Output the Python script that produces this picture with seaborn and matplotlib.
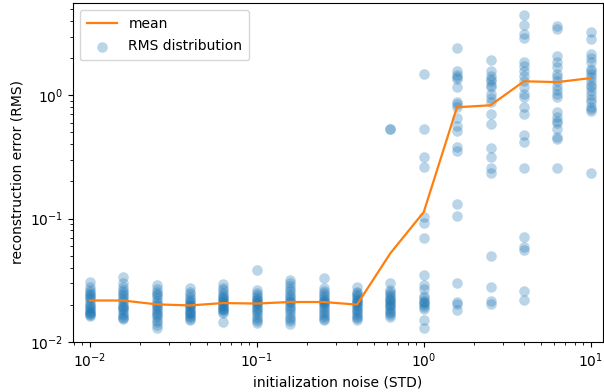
import numpy as np
import pandas as pd
import matplotlib
matplotlib.use('Agg')
import matplotlib.pyplot as plt
import seaborn as sns

# noise levels (x positions of the columns)
noise = [0.01, 0.0158, 0.0251, 0.0398, 0.0631, 0.1, 0.158, 0.251,
         0.398, 0.631, 1.0, 1.58, 2.51, 3.98, 6.31, 10.0]

# RMS values
rms_cols = [
    [0.0303, 0.0277, 0.0262, 0.0251, 0.0244, 0.0238, 0.0231, 0.0225, 0.0218, 0.0208,
     0.0200, 0.0195, 0.0189, 0.0184, 0.0179, 0.0174, 0.0169, 0.0166, 0.0163, 0.0170],
    [0.0333, 0.0300, 0.0280, 0.0265, 0.0255, 0.0245, 0.0235, 0.0226, 0.0218, 0.0210,
     0.0200, 0.0193, 0.0186, 0.0180, 0.0172, 0.0166, 0.0160, 0.0155, 0.0154, 0.0190],
    [0.0290, 0.0270, 0.0255, 0.0245, 0.0240, 0.0228, 0.0215, 0.0205, 0.0196, 0.0188,
     0.0180, 0.0174, 0.0168, 0.0165, 0.0158, 0.0150, 0.0145, 0.0137, 0.0129, 0.0200],
    [0.0271, 0.0255, 0.0243, 0.0232, 0.0222, 0.0212, 0.0203, 0.0195, 0.0190, 0.0184,
     0.0178, 0.0172, 0.0167, 0.0162, 0.0158, 0.0153, 0.0149, 0.0175, 0.0200, 0.0215],
    [0.0296, 0.0275, 0.0262, 0.0250, 0.0240, 0.0231, 0.0222, 0.0214, 0.0206, 0.0199,
     0.0192, 0.0186, 0.0180, 0.0175, 0.0170, 0.0144, 0.0210, 0.0225, 0.0195, 0.0185],
    [0.0385, 0.0262, 0.0250, 0.0240, 0.0232, 0.0224, 0.0216, 0.0208, 0.0200, 0.0193,
     0.0186, 0.0180, 0.0174, 0.0168, 0.0160, 0.0152, 0.0146, 0.0141, 0.0220, 0.0205],
    [0.0316, 0.0300, 0.0282, 0.0268, 0.0257, 0.0246, 0.0236, 0.0226, 0.0217, 0.0209,
     0.0200, 0.0192, 0.0184, 0.0176, 0.0168, 0.0160, 0.0152, 0.0146, 0.0140, 0.0210],
    [0.0326, 0.0271, 0.0258, 0.0248, 0.0240, 0.0232, 0.0224, 0.0216, 0.0208, 0.0200,
     0.0193, 0.0186, 0.0179, 0.0172, 0.0166, 0.0160, 0.0154, 0.0150, 0.0215, 0.0205],
    [0.0277, 0.0255, 0.0247, 0.0240, 0.0233, 0.0226, 0.0219, 0.0212, 0.0206, 0.0200,
     0.0194, 0.0188, 0.0182, 0.0176, 0.0170, 0.0165, 0.0160, 0.0155, 0.0150, 0.0215],
    [0.53, 0.53, 0.0300, 0.0262, 0.0251, 0.0242, 0.0234, 0.0226, 0.0218, 0.0210,
     0.0202, 0.0195, 0.0188, 0.0181, 0.0175, 0.0170, 0.0165, 0.0160, 0.0220, 0.0200],
    [1.50, 0.53, 0.318, 0.263, 0.103, 0.092, 0.069, 0.0345, 0.0286, 0.027,
     0.0235, 0.0225, 0.0215, 0.0205, 0.0198, 0.019, 0.0183, 0.0149, 0.0128, 0.0210],
    [2.42, 1.57, 1.45, 1.35, 1.16, 0.877, 0.80, 0.66, 0.56, 0.51,
     0.38, 0.35, 0.131, 0.105, 0.0297, 0.0212, 0.0204, 0.0182, 1.40, 0.85],
    [1.93, 1.57, 1.43, 1.30, 1.16, 1.02, 0.877, 0.70, 0.58, 0.376,
     0.318, 0.258, 0.235, 0.050, 0.0277, 0.0216, 0.0204, 1.22, 1.36, 0.95],
    [4.5, 3.72, 3.15, 2.92, 1.86, 1.72, 1.57, 1.43, 1.30, 1.16, 1.02,
     0.96, 0.80, 0.70, 0.48, 0.42, 0.258, 0.071, 0.0585, 0.056, 0.026, 0.022],
    [3.66, 3.46, 2.08, 1.86, 1.69, 1.48, 1.30, 1.18, 1.02, 0.96,
     0.73, 0.67, 0.60, 0.53, 0.46, 0.44, 0.258, 1.40, 1.10, 0.62],
    [3.27, 2.87, 2.16, 1.86, 1.57, 1.48, 1.30, 1.16, 1.08, 0.93,
     0.877, 0.81, 0.74, 0.235, 1.65, 1.22, 1.40, 1.00, 0.78, 2.0],
]

# mean line
mean_rms = [0.0216, 0.0216, 0.0201, 0.0197, 0.0206, 0.0204, 0.021, 0.021,
            0.020, 0.0523, 0.113, 0.80, 0.83, 1.30, 1.28, 1.38]

# long-form table for the scatter
scatter_df = pd.DataFrame(
    [(x, v) for x, col in zip(noise, rms_cols) for v in col],
    columns=['noise', 'rms'])
mean_df = pd.DataFrame({'noise': noise, 'rms': mean_rms})

fig = plt.figure(figsize=(6.04, 3.92), dpi=100)
ax = fig.add_axes([0.1204, 0.1283, 0.8776, 0.8637])

sns.lineplot(data=mean_df, x='noise', y='rms', color='tab:orange',
             linewidth=1.6, estimator=None, label='mean', ax=ax)
sns.scatterplot(data=scatter_df, x='noise', y='rms', color='tab:blue',
                alpha=0.3, s=58, linewidth=0, label='RMS distribution', ax=ax)

ax.set_xscale('log')
ax.set_yscale('log')
ax.set_xlim(0.0079, 11.8)
ax.set_ylim(0.01, 5.6)
ax.set_xlabel('initialization noise (STD)')
ax.set_ylabel('reconstruction error (RMS)')
ax.legend(loc='upper left', handlelength=2.2, labelspacing=0.6, borderpad=0.5)

plt.savefig('out.png', dpi=100)
